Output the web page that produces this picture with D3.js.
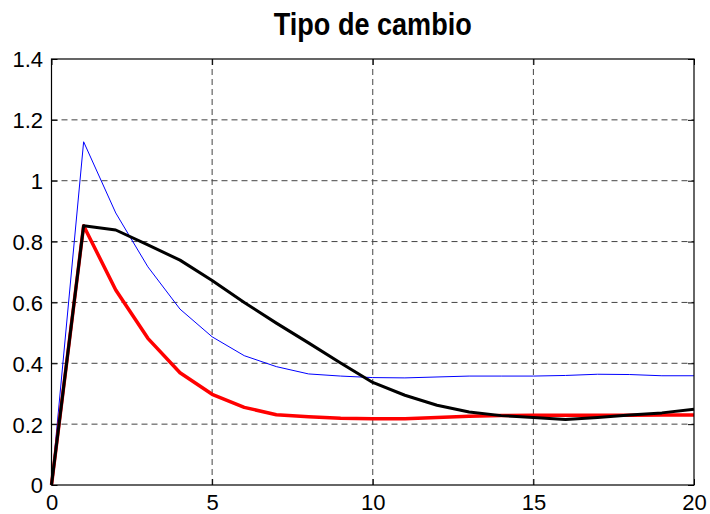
<!DOCTYPE html>
<html>
<head>
<meta charset="utf-8">
<script src="https://cdn.jsdelivr.net/npm/d3@7"></script>
<style>
  body { margin: 0; background: #fff; }
  svg { display: block; }
</style>
</head>
<body>
<div id="chart"></div>
<script>
// Data ///////////////////////////////////////
var periods = d3.range(0, 21);
var blueSeries  = [0, 1.128, 0.894, 0.717, 0.578, 0.487, 0.425, 0.389, 0.365, 0.358, 0.353,
                   0.352, 0.355, 0.358, 0.358, 0.358, 0.360, 0.364, 0.363, 0.359, 0.359];
var redSeries   = [0, 0.852, 0.641, 0.482, 0.369, 0.298, 0.255, 0.231, 0.224, 0.219, 0.218,
                   0.218, 0.222, 0.226, 0.228, 0.229, 0.229, 0.229, 0.229, 0.230, 0.230];
var blackSeries = [0, 0.852, 0.838, 0.789, 0.739, 0.672, 0.600, 0.532, 0.467, 0.401, 0.337,
                   0.295, 0.262, 0.240, 0.228, 0.222, 0.215, 0.222, 0.230, 0.237, 0.249];
var xTicks = [0, 5, 10, 15, 20];
var yTicks = [0, 0.2, 0.4, 0.6, 0.8, 1, 1.2, 1.4];
var title = "Tipo de cambio";

// Graph parameters ///////////////////////////
var W = 710, H = 514;
var margin = { top: 59, left: 51.5, right: 16, bottom: 29 };
var width = W - margin.left - margin.right;
var height = H - margin.top - margin.bottom;

var svg = d3.select("#chart").append("svg")
  .attr("width", W)
  .attr("height", H);

var g = svg.append("g")
  .attr("transform", "translate(" + margin.left + "," + margin.top + ")");

var x = d3.scaleLinear().domain([0, 20]).range([0, width]);
var y = d3.scaleLinear().domain([0, 1.4]).range([height, 0]);

var font = "'Liberation Sans', Arial, Helvetica, sans-serif";

// Grid ///////////////////////////////////////
g.selectAll(".gridX")
  .data(xTicks.filter(function(d) { return d > 0 && d < 20; }))
  .enter().append("line")
  .attr("x1", function(d) { return x(d); })
  .attr("x2", function(d) { return x(d); })
  .attr("y1", 0).attr("y2", height)
  .attr("stroke", "#444").attr("stroke-width", 1)
  .attr("stroke-dasharray", "6,4");

g.selectAll(".gridY")
  .data(yTicks.filter(function(d) { return d > 0 && d < 1.4; }))
  .enter().append("line")
  .attr("y1", function(d) { return y(d); })
  .attr("y2", function(d) { return y(d); })
  .attr("x1", 0).attr("x2", width)
  .attr("stroke", "#444").attr("stroke-width", 1)
  .attr("stroke-dasharray", "6,4");

// Axes ///////////////////////////////////////
var tickLen = 6;

var xAxisB = d3.axisBottom(x).tickValues(xTicks).tickSizeInner(-tickLen).tickSizeOuter(0)
  .tickPadding(9);
var xAxisT = d3.axisTop(x).tickValues(xTicks).tickSizeInner(-tickLen).tickSizeOuter(0)
  .tickFormat("");
var yAxisL = d3.axisLeft(y).tickValues(yTicks).tickSizeInner(-tickLen).tickSizeOuter(0)
  .tickPadding(8.5).tickFormat(function(d) { return d3.format("")(+d.toFixed(1)); });
var yAxisR = d3.axisRight(y).tickValues(yTicks).tickSizeInner(-tickLen).tickSizeOuter(0)
  .tickFormat("");

function styleAxis(sel) {
  sel.selectAll(".domain").remove();
  sel.selectAll(".tick line").attr("stroke", "#000");
  sel.selectAll(".tick text")
    .style("font-family", font)
    .style("font-size", "22px")
    .attr("fill", "#000");
}

g.append("g").attr("transform", "translate(0," + height + ")").call(xAxisB).call(styleAxis);
g.append("g").call(xAxisT).call(styleAxis);
g.append("g").call(yAxisL).call(styleAxis)
  .selectAll(".tick text").attr("dy", "0.36em");
g.append("g").attr("transform", "translate(" + width + ",0)").call(yAxisR).call(styleAxis);

// Lines //////////////////////////////////////
function lineFor(values) {
  return d3.line()
    .x(function(d, i) { return x(periods[i]); })
    .y(function(d) { return y(d); })(values);
}

g.append("path")
  .attr("d", lineFor(blueSeries))
  .attr("fill", "none").attr("stroke", "#0000ff").attr("stroke-width", 1)
  .attr("stroke-linejoin", "round");

g.append("path")
  .attr("d", lineFor(redSeries))
  .attr("fill", "none").attr("stroke", "#ff0000").attr("stroke-width", 3.5)
  .attr("stroke-linejoin", "round");

g.append("path")
  .attr("d", lineFor(blackSeries))
  .attr("fill", "none").attr("stroke", "#000").attr("stroke-width", 3)
  .attr("stroke-linejoin", "round");

// Box ////////////////////////////////////////
g.append("rect")
  .attr("x", 0).attr("y", 0)
  .attr("width", width).attr("height", height)
  .attr("fill", "none").attr("stroke", "#000").attr("stroke-width", 1.2);

// Title //////////////////////////////////////
svg.append("text")
  .attr("x", margin.left + width / 2)
  .attr("y", 35)
  .attr("text-anchor", "middle")
  .attr("textLength", 198)
  .attr("lengthAdjust", "spacingAndGlyphs")
  .style("font-family", font)
  .style("font-size", "31px")
  .style("font-weight", "bold")
  .text(title);
</script>
</body>
</html>
